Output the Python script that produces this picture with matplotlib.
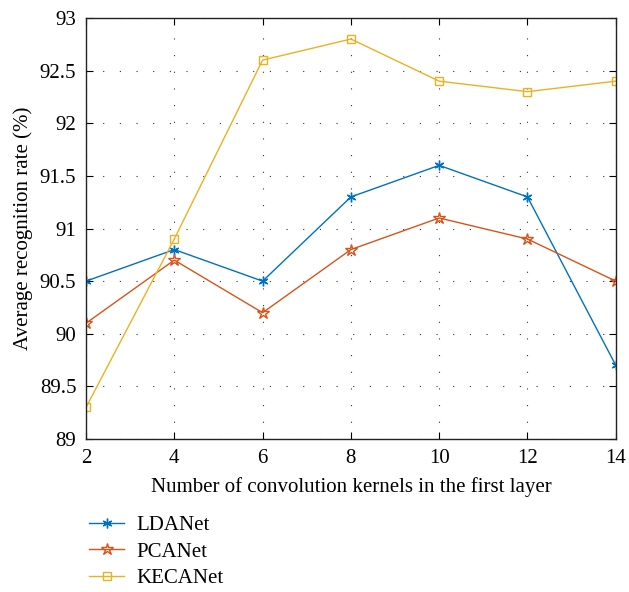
import matplotlib
matplotlib.use("Agg")
import matplotlib.pyplot as plt

x = [2, 4, 6, 8, 10, 12, 14]
ldanet = [90.5, 90.8, 90.5, 91.3, 91.6, 91.3, 89.7]
pcanet = [90.1, 90.7, 90.2, 90.8, 91.1, 90.9, 90.5]
kecanet = [89.3, 90.9, 92.6, 92.8, 92.4, 92.3, 92.4]
yticks = [89, 89.5, 90, 90.5, 91, 91.5, 92, 92.5, 93]
ytick_labels = ["89", "89.5", "90", "90.5", "91", "91.5", "92", "92.5", "93"]

plt.rcParams['font.family'] = ['Liberation Serif', 'DejaVu Serif']
plt.rcParams['font.size'] = 15

fig = plt.figure(figsize=(6.29, 5.92), dpi=100)
ax = fig.add_axes([0.1367, 0.2584, 0.979 - 0.1367, 0.9696 - 0.2584])

c1, c2, c3 = '#0072BD', '#D95319', '#EDB120'
l1, = ax.plot(x, ldanet, color=c1, marker=(6, 2, 0), markersize=7, lw=1.0, label='LDANet')
l2, = ax.plot(x, pcanet, color=c2, marker='*', markersize=9, markerfacecolor='none', lw=1.0, label='PCANet')
l3, = ax.plot(x, kecanet, color=c3, marker='s', markersize=6, markerfacecolor='none', lw=1.0, label='KECANet')

ax.set_xlim(2, 14)
ax.set_ylim(89, 93)
ax.set_xticks(x)
ax.set_yticks(yticks)
ax.set_yticklabels(ytick_labels)
ax.grid(True, linestyle=(0, (1, 14)), color='#333333', lw=0.8)
ax.tick_params(direction='in', length=5, top=True, right=True, labelsize=15, pad=7)
for s in ax.spines.values():
    s.set_linewidth(1.0)
    s.set_color('#222222')

ax.set_xlabel('Number of convolution kernels in the first layer', fontsize=15, labelpad=7)
ax.set_ylabel('Average recognition rate (%)', fontsize=15, labelpad=5)

fig.legend(handles=[l1, l2, l3], loc='upper left', bbox_to_anchor=(0.128, 0.143),
           frameon=False, fontsize=15, handlelength=1.7, labelspacing=0.33,
           handletextpad=0.6, borderaxespad=0)

fig.savefig('out.png', dpi=100)
